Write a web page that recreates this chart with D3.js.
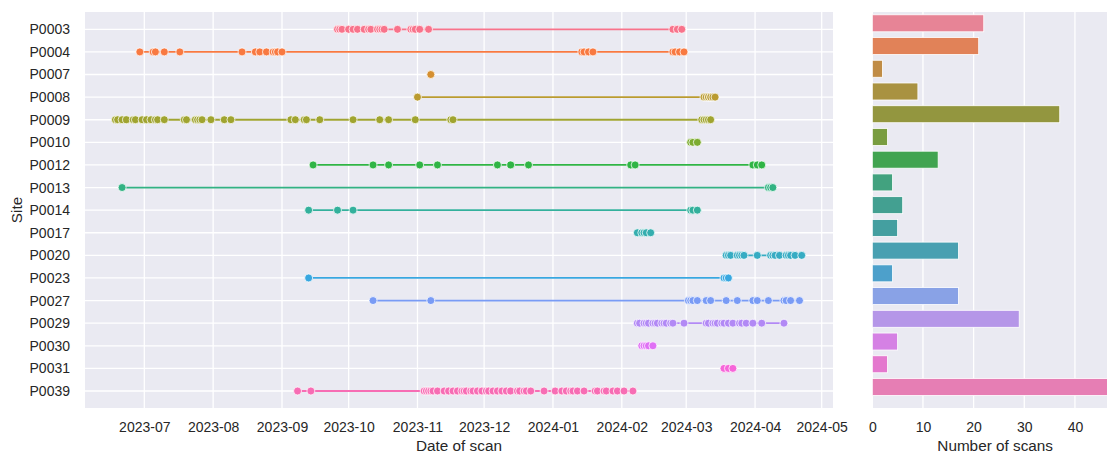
<!DOCTYPE html>
<html>
<head>
<meta charset="utf-8">
<script src="https://cdn.jsdelivr.net/npm/d3@7"></script>
<style>
  html, body { margin: 0; padding: 0; background: #ffffff; }
  svg { display: block; font-family: "Liberation Sans", Arial, sans-serif; }
</style>
</head>
<body>
<svg id="chart" width="1107" height="453"></svg>
<script>
// Scan dates per site
const sites = ["P0003","P0004","P0007","P0008","P0009","P0010","P0012","P0013","P0014",
               "P0017","P0020","P0023","P0027","P0029","P0030","P0031","P0039"];

const scansP0003 = ["2023-09-26","2023-09-27","2023-09-28","2023-10-01","2023-10-03","2023-10-05","2023-10-08","2023-10-10","2023-10-11","2023-10-14","2023-10-15","2023-10-16","2023-10-17","2023-10-23","2023-10-29","2023-10-30","2023-10-31","2023-11-02","2023-11-06","2024-02-24","2024-02-26","2024-02-28"];
const scansP0004 = ["2023-06-29","2023-07-05","2023-07-06","2023-07-10","2023-07-17","2023-08-14","2023-08-20","2023-08-22","2023-08-25","2023-08-28","2023-08-29","2023-08-30","2023-09-01","2024-01-14","2024-01-15","2024-01-17","2024-01-19","2024-02-24","2024-02-25","2024-02-27","2024-02-29"];
const scansP0007 = ["2023-11-07","2023-11-07"];
const scansP0008 = ["2023-11-01","2024-03-09","2024-03-10","2024-03-11","2024-03-11","2024-03-12","2024-03-12","2024-03-13","2024-03-14"];
const scansP0009 = ["2023-06-18","2023-06-19","2023-06-21","2023-06-23","2023-06-26","2023-06-27","2023-06-30","2023-07-02","2023-07-04","2023-07-06","2023-07-07","2023-07-10","2023-07-19","2023-07-20","2023-07-24","2023-07-25","2023-07-26","2023-07-27","2023-07-31","2023-08-06","2023-08-09","2023-09-05","2023-09-07","2023-09-11","2023-09-12","2023-09-18","2023-10-03","2023-10-15","2023-10-19","2023-10-31","2023-11-16","2023-11-17","2024-03-08","2024-03-09","2024-03-10","2024-03-11","2024-03-12"];
const scansP0010 = ["2024-03-03","2024-03-04","2024-03-06"];
const scansP0012 = ["2023-09-15","2023-10-12","2023-10-19","2023-11-02","2023-11-10","2023-12-07","2023-12-13","2023-12-21","2024-02-05","2024-02-07","2024-03-31","2024-04-02","2024-04-04"];
const scansP0013 = ["2023-06-21","2024-04-07","2024-04-08","2024-04-09"];
const scansP0014 = ["2023-09-13","2023-09-26","2023-10-03","2024-03-03","2024-03-04","2024-03-06"];
const scansP0017 = ["2024-02-08","2024-02-10","2024-02-11","2024-02-12","2024-02-14"];
const scansP0020 = ["2024-03-19","2024-03-20","2024-03-21","2024-03-24","2024-03-25","2024-03-26","2024-03-27","2024-04-02","2024-04-08","2024-04-09","2024-04-10","2024-04-12","2024-04-15","2024-04-16","2024-04-17","2024-04-19","2024-04-22"];
const scansP0023 = ["2023-09-13","2024-03-18","2024-03-19","2024-03-20"];
const scansP0027 = ["2023-10-12","2023-11-07","2024-03-02","2024-03-03","2024-03-04","2024-03-06","2024-03-10","2024-03-12","2024-03-19","2024-03-24","2024-03-31","2024-04-02","2024-04-07","2024-04-14","2024-04-15","2024-04-17","2024-04-21"];
const scansP0029 = ["2024-02-08","2024-02-09","2024-02-11","2024-02-12","2024-02-13","2024-02-15","2024-02-16","2024-02-17","2024-02-19","2024-02-20","2024-02-21","2024-02-23","2024-02-24","2024-02-29","2024-03-10","2024-03-11","2024-03-13","2024-03-14","2024-03-15","2024-03-17","2024-03-18","2024-03-20","2024-03-22","2024-03-25","2024-03-26","2024-03-28","2024-03-31","2024-04-04","2024-04-14"];
const scansP0030 = ["2024-02-10","2024-02-11","2024-02-12","2024-02-13","2024-02-15"];
const scansP0031 = ["2024-03-18","2024-03-20","2024-03-22"];
const scansP0039 = ["2023-09-08","2023-09-14","2023-11-04","2023-11-05","2023-11-06","2023-11-07","2023-11-08","2023-11-10","2023-11-13","2023-11-15","2023-11-17","2023-11-19","2023-11-21","2023-11-22","2023-11-23","2023-11-25","2023-11-26","2023-11-28","2023-11-30","2023-12-02","2023-12-03","2023-12-05","2023-12-07","2023-12-09","2023-12-11","2023-12-13","2023-12-16","2023-12-17","2023-12-19","2023-12-20","2023-12-22","2023-12-28","2024-01-02","2024-01-05","2024-01-07","2024-01-09","2024-01-10","2024-01-12","2024-01-15","2024-01-20","2024-01-21","2024-01-24","2024-01-25","2024-01-28","2024-01-30","2024-02-02","2024-02-06"];

const dateTicks = ["2023-07","2023-08","2023-09","2023-10","2023-11","2023-12","2024-01","2024-02","2024-03","2024-04","2024-05"];
const countTicks = [0, 10, 20, 30, 40];

const scansBySite = {
  P0003: scansP0003, P0004: scansP0004, P0007: scansP0007, P0008: scansP0008,
  P0009: scansP0009, P0010: scansP0010, P0012: scansP0012, P0013: scansP0013,
  P0014: scansP0014, P0017: scansP0017, P0020: scansP0020, P0023: scansP0023,
  P0027: scansP0027, P0029: scansP0029, P0030: scansP0030, P0031: scansP0031,
  P0039: scansP0039
};

// ---- HUSL palette (same maths as the husl package) ----
const M = [[3.2406, -1.5372, -0.4986], [-0.9689, 1.8758, 0.0415], [0.0557, -0.2040, 1.0570]];
const refU = 0.19784, refV = 0.46834, kappa = 903.2963, epsilon = 0.0088564;
function maxChroma(L, H) {
  const hrad = H / 360 * 2 * Math.PI, sinH = Math.sin(hrad), cosH = Math.cos(hrad);
  const sub1 = Math.pow(L + 16, 3) / 1560896;
  const sub2 = sub1 > epsilon ? sub1 : L / kappa;
  let result = Infinity;
  for (const [m1, m2, m3] of M) {
    const tp = (0.99915 * m1 + 1.05122 * m2 + 1.14460 * m3) * sub2;
    const rb = 0.86330 * m3 - 0.17266 * m2;
    const lb = 0.12949 * m3 - 0.38848 * m1;
    const bt = (rb * sinH + lb * cosH) * sub2;
    for (const t of [0, 1]) {
      const C = L * (tp - 1.05122 * t) / (bt + 0.17266 * sinH * t);
      if (C > 0 && C < result) result = C;
    }
  }
  return result;
}
function huslToHex(h, s, l) {
  const C = maxChroma(l, h) / 100 * s;
  const hr = h / 360 * 2 * Math.PI;
  const U = Math.cos(hr) * C, V = Math.sin(hr) * C;
  const Y = l > 8 ? Math.pow((l + 16) / 116, 3) : l / kappa;
  const vU = U / (13 * l) + refU, vV = V / (13 * l) + refV;
  const X = 0 - (9 * Y * vU) / ((vU - 4) * vV - vU * vV);
  const Z = (9 * Y - 15 * vV * Y - vV * X) / (3 * vV);
  const lin = M.map(r => r[0] * X + r[1] * Y + r[2] * Z);
  const rgb = lin.map(c => {
    const v = c <= 0.0031308 ? 12.92 * c : 1.055 * Math.pow(c, 1 / 2.4) - 0.055;
    return Math.round(Math.max(0, Math.min(1, v)) * 255);
  });
  return d3.rgb(rgb[0], rgb[1], rgb[2]).formatHex();
}
const palette = sites.map((_, k) => huslToHex((((k / sites.length) + 0.01) % 1) * 359, 90, 65));
const color = d3.scaleOrdinal().domain(sites).range(palette);
const barColor = site => { const c = d3.hsl(color(site)); c.s *= 0.75; return c.formatHex(); };

// ---- layout ----
const svg = d3.select("#chart");
const textColor = "#262626";
const panelBg = "#eaeaf2";
const panelTop = 12, panelBottom = 408;
const left1 = 85, right1 = 833;
const left2 = 872.3, right2 = 1118;

const parse = d3.utcParse("%Y-%m-%d");
const parseMonth = d3.utcParse("%Y-%m");

const x = d3.scaleUtc()
  .domain([parseMonth(dateTicks[0]), parseMonth(dateTicks[dateTicks.length - 1])])
  .range([144.3, 821.7]);
const y = d3.scalePoint().domain(sites).range([29.3, 391]);

const counts = sites.map(s => scansBySite[s].length);
const xc = d3.scaleLinear().domain([0, 48.5]).range([left2, right2]);
const yb = d3.scalePoint().domain(sites).range([23.3, 387]);
const barH = 17;

// ---- left panel: scan timeline ----
svg.append("rect").attr("x", left1).attr("y", panelTop)
  .attr("width", right1 - left1).attr("height", panelBottom - panelTop).attr("fill", panelBg);

const g1 = svg.append("g");
g1.selectAll("line.vgrid").data(dateTicks).join("line")
  .attr("x1", d => x(parseMonth(d))).attr("x2", d => x(parseMonth(d)))
  .attr("y1", panelTop).attr("y2", panelBottom)
  .attr("stroke", "#fff").attr("stroke-width", 1.3);
g1.selectAll("line.hgrid").data(sites).join("line")
  .attr("x1", left1).attr("x2", right1)
  .attr("y1", d => y(d)).attr("y2", d => y(d))
  .attr("stroke", "#fff").attr("stroke-width", 1.3);

const xAxis = d3.axisBottom(x)
  .tickValues(dateTicks.map(parseMonth))
  .tickFormat(d3.utcFormat("%Y-%m"))
  .tickSize(0).tickPadding(0);
const gx = svg.append("g").attr("transform", `translate(0,${panelBottom})`).call(xAxis);
gx.select(".domain").remove();
gx.selectAll("text").attr("fill", textColor).attr("font-size", 14)
  .attr("dy", null).attr("y", 24);

const yAxis = d3.axisLeft(y).tickSize(0).tickPadding(0);
const gy = svg.append("g").attr("transform", `translate(70,0)`).call(yAxis);
gy.select(".domain").remove();
gy.selectAll("text").attr("fill", textColor).attr("font-size", 14).attr("x", 0);

const line = d3.line().x(d => x(d)).y(0);
sites.forEach(site => {
  const dates = scansBySite[site].map(parse).sort((a, b) => a - b);
  const c = color(site);
  const gs = svg.append("g").attr("transform", `translate(0,${y(site)})`);
  gs.append("path").attr("d", line(dates)).attr("fill", "none")
    .attr("stroke", c).attr("stroke-width", 1.8);
  gs.selectAll("circle").data(dates).join("circle")
    .attr("cx", d => x(d)).attr("cy", 0).attr("r", 4)
    .attr("fill", c).attr("stroke", "#fff").attr("stroke-width", 0.75);
});

svg.append("text").attr("x", (left1 + right1) / 2).attr("y", 451)
  .attr("text-anchor", "middle").attr("fill", textColor).attr("font-size", 15.3)
  .text("Date of scan");
svg.append("text").attr("transform", `translate(22,${(panelTop + panelBottom) / 2}) rotate(-90)`)
  .attr("text-anchor", "middle").attr("fill", textColor).attr("font-size", 15.3)
  .text("Site");

// ---- right panel: number of scans ----
svg.append("rect").attr("x", left2).attr("y", panelTop)
  .attr("width", right2 - left2).attr("height", panelBottom - panelTop).attr("fill", panelBg);
svg.append("g").selectAll("line").data(countTicks).join("line")
  .attr("x1", d => xc(d)).attr("x2", d => xc(d))
  .attr("y1", panelTop).attr("y2", panelBottom)
  .attr("stroke", "#fff").attr("stroke-width", 1.3);

svg.append("g").selectAll("rect").data(sites).join("rect")
  .attr("x", xc(0)).attr("y", d => yb(d) - barH / 2)
  .attr("width", (d, i) => xc(counts[i]) - xc(0)).attr("height", barH)
  .attr("fill", d => barColor(d)).attr("stroke", "#fff").attr("stroke-width", 0.8);

const xcAxis = d3.axisBottom(xc).tickValues(countTicks).tickSize(0).tickPadding(0);
const gxc = svg.append("g").attr("transform", `translate(0,${panelBottom})`).call(xcAxis);
gxc.select(".domain").remove();
gxc.selectAll("text").attr("fill", textColor).attr("font-size", 14)
  .attr("dy", null).attr("y", 24);

svg.append("text").attr("x", (left2 + right2) / 2).attr("y", 451)
  .attr("text-anchor", "middle").attr("fill", textColor).attr("font-size", 15.3)
  .text("Number of scans");
</script>
</body>
</html>
